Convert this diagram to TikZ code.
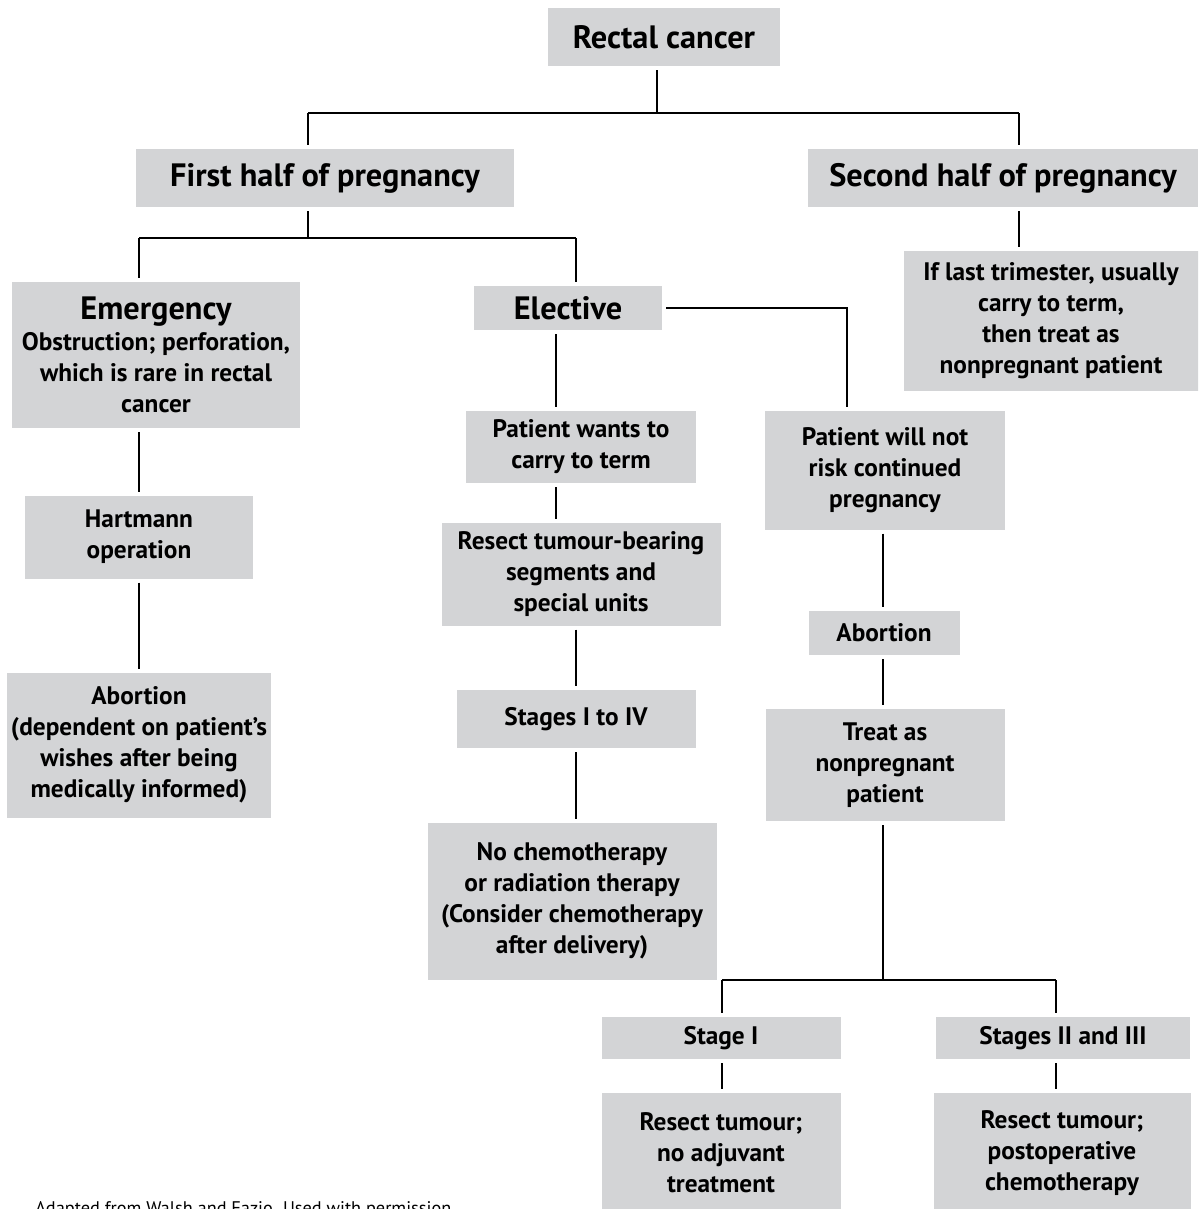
\documentclass[tikz,border=0pt]{standalone}
\usepackage{fontspec}
\setmainfont{PT Sans}
\usepackage{xcolor}
\usepackage{tikz}
\usetikzlibrary{positioning, calc}
\definecolor{boxgray}{RGB}{211,212,214}

\begin{document}
\begin{tikzpicture}[
    x=0.025cm, y=-0.025cm,
    box/.style={fill=boxgray, inner sep=0pt, outer sep=0.1cm, align=center,
                font=\fontsize{18}{22}\selectfont\bfseries},
    head/.style={box, font=\fontsize{23}{27}\selectfont\bfseries},
    size/.style 2 args={minimum width=#1*0.025cm, minimum height=#2*0.025cm},
    link/.style={line width=0.9pt}
]
\useasboundingbox (0,0) rectangle (1198,1209);
\clip (0,0) rectangle (1198,1209);

\node[head, size={232}{58}] (rectal) at (664,37) {Rectal cancer};
\node[head, size={378}{58}] (first) at (325,178) {First half of pregnancy};
\node[head, size={390}{58}] (second) at (1003,178) {Second half of pregnancy};
\node[box, size={295}{140}] (late) at (1051,321) {If last trimester, usually\\ carry to term,\\ then treat as\\ nonpregnant patient};

\node[box, size={288}{146}] (emerg) at (156,355) {{\fontsize{23}{27}\selectfont Emergency}\\ Obstruction; perforation,\\ which is rare in rectal\\ cancer};
\node[box, size={228}{83}] (hartmann) at (139,537) {Hartmann\\ operation};
\node[box, size={264}{145}] (abort1) at (139,745) {Abortion\\ (dependent on patient's\\ wishes after being\\ medically informed)};

\node[head, size={188}{44}] (elect) at (568,308) {Elective};
\node[box, size={230}{72}] (wants) at (581,447) {Patient wants to\\ carry to term};
\node[box, size={279}{103}] (resect) at (581,574) {Resect tumour-bearing\\ segments and\\ special units};
\node[box, size={239}{58}] (stages) at (576,719) {Stages I to IV};
\node[box, size={289}{157}] (nochemo) at (572,901) {No chemotherapy\\ or radiation therapy\\ (Consider chemotherapy\\ after delivery)};

\node[box, size={240}{119}] (refuse) at (885,470) {Patient will not\\ risk continued\\ pregnancy};
\node[box, size={151}{44}] (abort2) at (884,633) {Abortion};
\node[box, size={239}{112}] (treat) at (885,765) {Treat as\\ nonpregnant\\ patient};
\node[box, size={239}{42}] (stage1) at (721,1038) {Stage I};
\node[box, size={254}{42}] (stage23) at (1063,1038) {Stages II and III};
\node[box, size={239}{120}] (res1) at (721,1153) {Resect tumour;\\ no adjuvant\\ treatment};
\node[box, size={257}{120}] (res23) at (1062,1153) {Resect tumour;\\ postoperative\\ chemotherapy};

\node[anchor=north west, inner sep=0pt, font=\fontsize{13}{15}\selectfont] (credit) at (35,1201) {Adapted from Walsh and Fazio. Used with permission.};

% junctions of the tree
\coordinate (j1) at (657,113);
\coordinate (j1l) at (308,113);
\coordinate (j1r) at (1019,113);
\coordinate (j2) at (308,238);
\coordinate (j2l) at (139,238);
\coordinate (j2r) at (576,238);
\coordinate (j3) at (847,308);
\coordinate (j5) at (883,980);
\coordinate (j5l) at (722,980);
\coordinate (j5r) at (1056,980);
\coordinate (xa) at (556,0);
\coordinate (xb) at (576,0);

\draw[link] (rectal.south -| j1) -- (j1);
\draw[link] (j1l) -- (j1r);
\draw[link] (j1l) -- (first.north -| j1l);
\draw[link] (j1r) -- (second.north -| j1r);
\draw[link] (second.south -| j1r) -- (late.north -| j1r);

\draw[link] (first.south -| j2) -- (j2);
\draw[link] (j2l) -- (j2r);
\draw[link] (j2l) -- (emerg.north -| j2l);
\draw[link] (j2r) -- (elect.north -| j2r);

\draw[link] (emerg.south -| j2l) -- (hartmann.north -| j2l);
\draw[link] (hartmann.south -| j2l) -- (abort1.north -| j2l);

\draw[link] (elect.south -| xa) -- (wants.north -| xa);
\draw[link] (wants.south -| xa) -- (resect.north -| xa);
\draw[link] (resect.south -| xb) -- (stages.north -| xb);
\draw[link] (stages.south -| xb) -- (nochemo.north -| xb);

\draw[link] (elect.east) -- (j3) -- (refuse.north -| j3);
\draw[link] (refuse.south -| j5) -- (abort2.north -| j5);
\draw[link] (abort2.south -| j5) -- (treat.north -| j5);
\draw[link] (treat.south -| j5) -- (j5);
\draw[link] (j5l) -- (j5r);
\draw[link] (j5l) -- (stage1.north -| j5l);
\draw[link] (j5r) -- (stage23.north -| j5r);
\draw[link] (stage1.south -| j5l) -- (res1.north -| j5l);
\draw[link] (stage23.south -| j5r) -- (res23.north -| j5r);
\end{tikzpicture}
\end{document}
